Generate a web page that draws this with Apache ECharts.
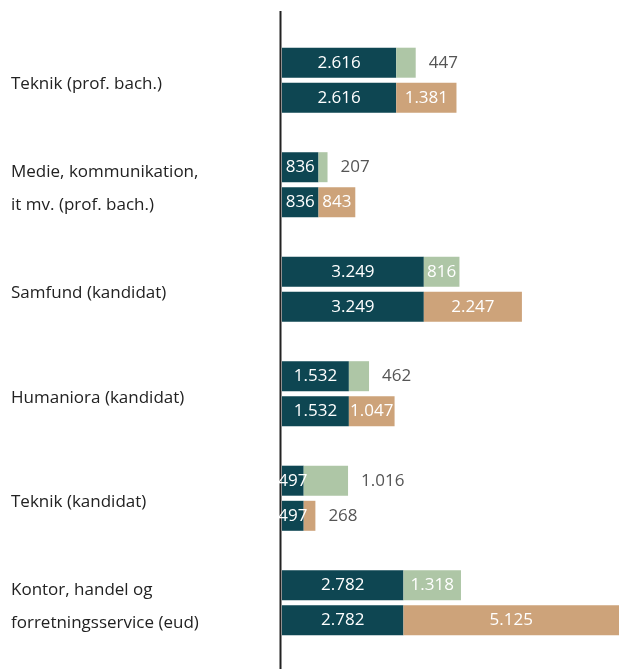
<!DOCTYPE html>
<html>
<head>
<meta charset="utf-8">
<script src="https://cdn.jsdelivr.net/npm/echarts@6/dist/echarts.min.js"></script>
<style>
  html, body { margin: 0; padding: 0; background: #fff; }
  #chart { width: 619px; height: 669px; }
</style>
</head>
<body>
<div id="chart"></div>
<script>
// kategorier og værdier
const categories = [
  "Teknik (prof. bach.)",
  "Medie, kommunikation,\nit mv. (prof. bach.)",
  "Samfund (kandidat)",
  "Humaniora (kandidat)",
  "Teknik (kandidat)",
  "Kontor, handel og\nforretningsservice (eud)"
];
const baseValues = [2616, 836, 3249, 1532, 497, 2782];
const greenValues = [447, 207, 816, 462, 1016, 1318];
const tanValues = [1381, 843, 2247, 1047, 268, 5125];

// hvilke labels står udenfor søjlen
const greenOutside = [0, 1, 3, 4];
const tanOutside = [4];

const DARK = "#0e4652";
const GREEN = "#aec6a6";
const TAN = "#cda37a";
const FONT = "'Open Sans', sans-serif";

const fmt = (v) => String(v).replace(/\B(?=(\d{3})+(?!\d))/g, ".");

const insideLabel = {
  show: true,
  position: "inside",
  color: "#fff",
  fontSize: 17,
  fontFamily: FONT,
  formatter: (p) => fmt(p.value),
};
const outsideLabel = {
  show: true,
  position: "right",
  distance: 13,
  color: "#555",
  fontSize: 17,
  fontFamily: FONT,
  formatter: (p) => fmt(p.value),
};

function withLabels(values, outside) {
  return values.map((v, i) =>
    outside.includes(i) ? { value: v, label: outsideLabel } : v
  );
}

const chart = echarts.init(document.getElementById("chart"));
chart.setOption({
  animation: false,
  grid: { left: 282, right: 0, top: 28, bottom: 14 },
  xAxis: {
    type: "value",
    min: 0,
    max: 7720,
    show: false,
  },
  yAxis: {
    type: "category",
    inverse: true,
    data: categories,
    axisLine: { show: false },
    axisTick: { show: false },
    axisLabel: {
      align: "left",
      margin: 271,
      // lille tom linje øverst skubber teksten lidt ned
      formatter: (v) =>
        "{s| }\n" + v.split("\n").map((l) => "{t|" + l + "}").join("\n"),
      rich: {
        s: { fontSize: 1, lineHeight: 8 },
        t: { color: "#222", fontSize: 17, lineHeight: 33, fontFamily: FONT },
      },
    },
  },
  graphic: [
    {
      type: "line",
      shape: { x1: 280.5, y1: 11, x2: 280.5, y2: 669 },
      style: { stroke: "#222", lineWidth: 2 },
      z: 1,
    },
  ],
  series: [
    {
      type: "bar",
      stack: "a",
      barWidth: 30,
      barGap: "17%",
      data: baseValues,
      itemStyle: { color: DARK },
      label: insideLabel,
    },
    {
      type: "bar",
      stack: "a",
      barWidth: 30,
      data: withLabels(greenValues, greenOutside),
      itemStyle: { color: GREEN },
      label: insideLabel,
    },
    {
      type: "bar",
      stack: "b",
      barWidth: 30,
      barGap: "17%",
      data: baseValues,
      itemStyle: { color: DARK },
      label: insideLabel,
    },
    {
      type: "bar",
      stack: "b",
      barWidth: 30,
      data: withLabels(tanValues, tanOutside),
      itemStyle: { color: TAN },
      label: insideLabel,
    },
  ],
});
</script>
</body>
</html>
